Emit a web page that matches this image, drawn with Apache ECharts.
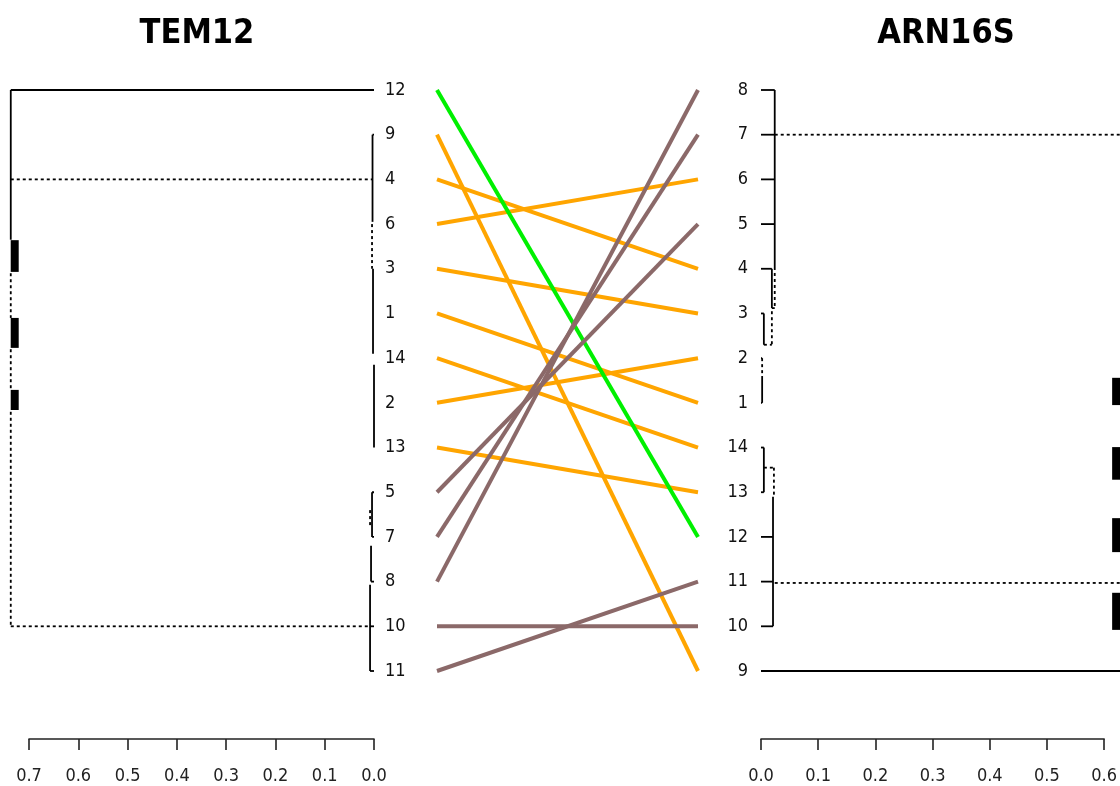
<!DOCTYPE html>
<html>
<head>
<meta charset="utf-8">
<script src="https://cdn.jsdelivr.net/npm/echarts@6/dist/echarts.min.js"></script>
<style>
  html, body { margin: 0; padding: 0; background: #fff; }
  #chart { width: 1120px; height: 786px; }
</style>
</head>
<body>
<div id="chart"></div>
<script>
// leaf order, top to bottom
var tem12Leaves = ['12', '9', '4', '6', '3', '1', '14', '2', '13', '5', '7', '8', '10', '11']
var arn16sLeaves = ['8', '7', '6', '5', '4', '3', '2', '1', '14', '13', '12', '11', '10', '9']

// which common-subtree group each TEM12 leaf belongs to (for link colour)
var linkGroups = ['g2', 'g1', 'g1', 'g1', 'g1', 'g1', 'g1', 'g1', 'g1', 'g3', 'g3', 'g3', 'g3', 'g3']

var heightTicksLeft = [0, 0.1, 0.2, 0.3, 0.4, 0.5, 0.6, 0.7]
var heightTicksRight = [0, 0.1, 0.2, 0.3, 0.4, 0.5, 0.6]

// dendrogram segments: [height1, row1, height2, row2]
var tem12Solid = [
  [0.737, 1, 0.737, 4.35],
  [0.737, 1, 0, 1],
  [0.003, 2, 0.003, 3.95], [0.003, 2, 0, 2],
  [0.002, 5, 0.002, 6.9],
  [0, 7.15, 0, 9],
  [0.004, 10, 0.004, 11], [0.004, 10, 0, 10], [0.004, 11, 0, 11],
  [0.006, 11.2, 0.006, 12], [0.006, 12, 0, 12],
  [0.008, 12.07, 0.008, 14], [0.008, 14, 0, 14], [0.008, 13, 0, 13]
]
var tem12Dotted = [
  [0.737, 5.1, 0.737, 6.1],
  [0.737, 6.8, 0.737, 7.7],
  [0.737, 8.2, 0.737, 13],
  [0.737, 3, 0.002, 3],
  [0.737, 13, 0.008, 13],
  [0.004, 4, 0.004, 5],
  [0.008, 10.4, 0.008, 10.8]
]
var tem12Heavy = [
  [0.729, 4.36, 0.729, 5.07],
  [0.729, 6.10, 0.729, 6.77],
  [0.729, 7.71, 0.729, 8.16]
]

var arn16sSolid = [
  [0, 1, 0.024, 1], [0, 2, 0.024, 2], [0, 3, 0.024, 3], [0, 4, 0.024, 4],
  [0.024, 1, 0.024, 4.96],
  [0, 5, 0.019, 5], [0.019, 5, 0.019, 5.88], [0.019, 5.88, 0.024, 5.88],
  [0, 6, 0.005, 6], [0.005, 6, 0.005, 6.7],
  [0, 7, 0.002, 7], [0.002, 7.4, 0.002, 8], [0, 8, 0.002, 8],
  [0, 9, 0.005, 9], [0.005, 9, 0.005, 10], [0, 10, 0.005, 10],
  [0.021, 10.1, 0.021, 13], [0, 11, 0.021, 11], [0, 12, 0.021, 12], [0, 13, 0.021, 13],
  [0, 14, 0.65, 14]
]
var arn16sDotted = [
  [0.024, 4.96, 0.024, 5.85],
  [0.019, 5.95, 0.019, 6.7], [0.005, 6.7, 0.019, 6.7],
  [0.002, 7, 0.002, 7.4],
  [0.005, 9.45, 0.0226, 9.45], [0.0226, 9.45, 0.0226, 10.1],
  [0.024, 2, 0.65, 2],
  [0.024, 12.03, 0.65, 12.03]
]
var arn16sHeavy = [
  [0.621, 7.44, 0.621, 8.05],
  [0.621, 8.99, 0.621, 9.72],
  [0.621, 10.58, 0.621, 11.34],
  [0.621, 12.25, 0.621, 13.08]
]

var groupColors = { g1: '#FFA500', g2: '#00F000', g3: '#8B6969' }
var FONT = '"Liberation Sans Narrow", "Arial Narrow", "DejaVu Sans Condensed", "Liberation Sans", sans-serif'

function segRenderer(stroke, width, dash) {
  return function(params, api) {
    var a = api.coord([api.value(0), api.value(1)])
    var b = api.coord([api.value(2), api.value(3)])
    return {
      type: 'line',
      shape: { x1: a[0], y1: a[1], x2: b[0], y2: b[1] },
      style: { stroke: stroke, lineWidth: width, lineDash: dash || null, fill: null }
    }
  }
}

function segSeries(idx, data, width, dash) {
  return {
    type: 'custom',
    xAxisIndex: idx,
    yAxisIndex: idx,
    clip: false,
    silent: true,
    encode: { x: [0, 2], y: [1, 3] },
    renderItem: segRenderer('#000', width, dash),
    data: data
  }
}

function linkSeries(group) {
  return {
    type: 'custom',
    xAxisIndex: 1,
    yAxisIndex: 1,
    clip: false,
    silent: true,
    encode: { x: [0, 2], y: [1, 3] },
    renderItem: segRenderer(groupColors[group], 4),
    data: links[group]
  }
}

// links between the same label in both trees
var links = { g1: [], g2: [], g3: [] }
tem12Leaves.forEach(function(name, i) {
  var r = arn16sLeaves.indexOf(name) + 1
  links[linkGroups[i]].push([0, i + 1, 1, r])
})

var rowAxis = function(gridIndex, position, labels, margin) {
  return {
    type: 'value',
    gridIndex: gridIndex,
    min: 1,
    max: 14,
    interval: 1,
    inverse: true,
    position: position,
    splitLine: { show: false },
    axisLine: { show: false },
    axisTick: { show: false },
    axisLabel: {
      show: !!labels,
      margin: margin,
      color: '#111',
      fontFamily: FONT,
      fontSize: 18,
      formatter: function(v) { return labels ? labels[v - 1] : '' }
    }
  }
}

var heightAxis = function(gridIndex, inverse, ticks) {
  return {
    type: 'value',
    gridIndex: gridIndex,
    min: 0,
    max: ticks[ticks.length - 1],
    interval: 0.1,
    inverse: inverse,
    position: 'bottom',
    offset: 68,
    splitLine: { show: false },
    axisLine: { show: true, onZero: false, lineStyle: { color: '#222', width: 1.6 } },
    axisTick: { show: true, length: 11, lineStyle: { color: '#222', width: 1.6 } },
    axisLabel: {
      margin: 28,
      color: '#222',
      fontFamily: FONT,
      fontSize: 18,
      formatter: function(v) { return v.toFixed(1) }
    }
  }
}

var chart = echarts.init(document.getElementById('chart'))
chart.setOption({
  animation: false,
  backgroundColor: '#fff',
  title: [
    { text: 'TEM12', left: 192, top: 12, textAlign: 'center',
      textStyle: { fontFamily: FONT, fontWeight: 'bold', fontSize: 34, color: '#000' } },
    { text: 'ARN16S', left: 941, top: 12, textAlign: 'center',
      textStyle: { fontFamily: FONT, fontWeight: 'bold', fontSize: 34, color: '#000' } }
  ],
  grid: [
    { left: 29, width: 345, top: 90, height: 581 },
    { left: 437, width: 261, top: 90, height: 581 },
    { left: 761, width: 345, top: 90, height: 581 }
  ],
  xAxis: [
    heightAxis(0, true, heightTicksLeft),
    { type: 'value', gridIndex: 1, min: 0, max: 1, show: false },
    heightAxis(2, false, heightTicksRight)
  ],
  yAxis: [
    rowAxis(0, 'right', tem12Leaves, 11),
    rowAxis(1, 'left', null, 0),
    rowAxis(2, 'left', arn16sLeaves, 13)
  ],
  series: [
    segSeries(0, tem12Solid, 1.8),
    segSeries(0, tem12Dotted, 1.8, [3, 3]),
    segSeries(0, tem12Heavy, 8),
    segSeries(2, arn16sSolid, 1.8),
    segSeries(2, arn16sDotted, 1.8, [3, 3]),
    segSeries(2, arn16sHeavy, 8),
    linkSeries('g1'),
    linkSeries('g2'),
    linkSeries('g3')
  ]
})
</script>
</body>
</html>
